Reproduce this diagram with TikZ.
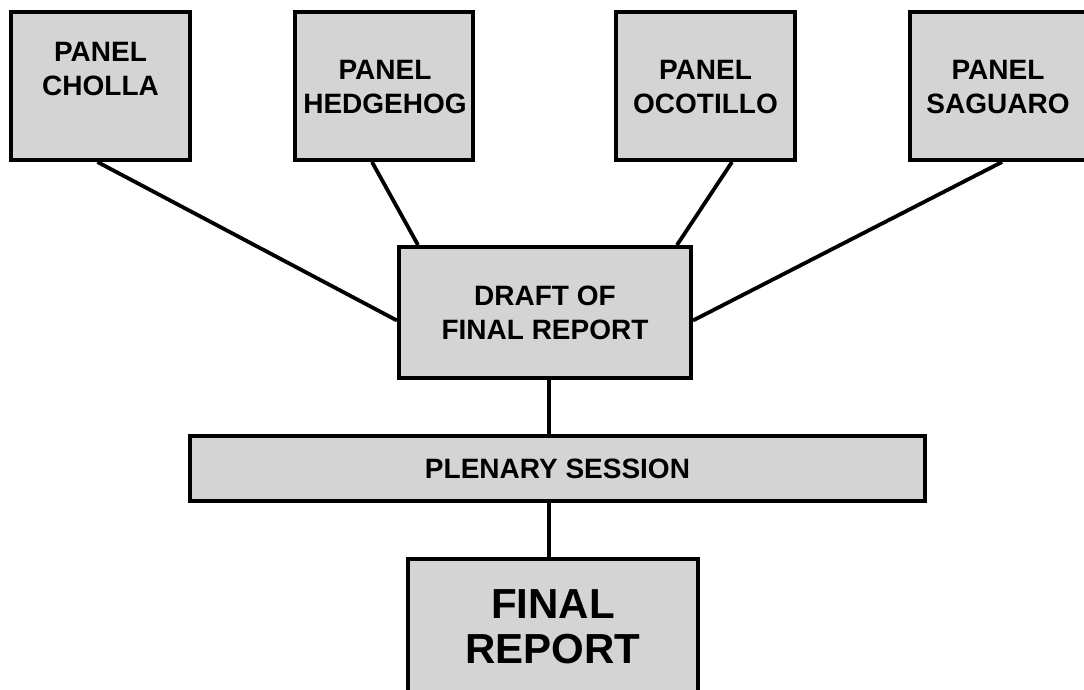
\documentclass[tikz,border=0pt]{standalone}
\usepackage{fontspec}
\setmainfont{Liberation Sans}
\definecolor{boxgray}{HTML}{D4D4D4}
\tikzset{
  box/.style={draw=black, fill=boxgray, line width=4pt, rectangle, inner sep=0pt},
  lbl/.style={font=\bfseries\fontsize{28}{34}\selectfont, align=center, inner sep=0pt},
  biglbl/.style={font=\bfseries\fontsize{42}{45}\selectfont, align=center, inner sep=0pt},
  conn/.style={line width=3.8pt}
}
\begin{document}
\begin{tikzpicture}[x=1pt,y=-1pt]
\useasboundingbox (0,0) rectangle (1084,689);
\clip (0,0) rectangle (1084,689);
\fill[white] (0,0) rectangle (1084,689);
% panels
\node[box, minimum width=179pt, minimum height=148pt] (cholla) at (100.5,86) {};
\node[box, minimum width=178pt, minimum height=148pt] (hedgehog) at (384,86) {};
\node[box, minimum width=179pt, minimum height=148pt] (ocotillo) at (705.5,86) {};
\node[box, minimum width=180pt, minimum height=148pt] (saguaro) at (1000,86) {};
\node[lbl] (cholla-t) at (100.5,69) {PANEL\\CHOLLA};
\node[lbl] (hedgehog-t) at (385,87) {PANEL\\HEDGEHOG};
\node[lbl] (ocotillo-t) at (705.5,87) {PANEL\\OCOTILLO};
\node[lbl] (saguaro-t) at (998,87) {PANEL\\SAGUARO};
% draft
\node[box, lbl, minimum width=292pt, minimum height=131pt] (draft) at (545,312.5) {DRAFT OF\\FINAL REPORT};
% plenary
\node[box, lbl, minimum width=735pt, minimum height=65pt] (plenary) at (557.5,468.5) {PLENARY SESSION};
% final
\node[box, minimum width=290pt, minimum height=146pt] (final) at (553,632) {};
\node[biglbl] (final-t) at (553,627) {FINAL\\REPORT};
% connectors
\draw[conn] ([xshift=-3pt]cholla.south) -- ([yshift=-8pt]draft.west);
\draw[conn] ([xshift=-12pt]hedgehog.south) -- ([xshift=21pt]draft.north west);
\draw[conn] ([xshift=26.5pt]ocotillo.south) -- ([xshift=-16pt]draft.north east);
\draw[conn] ([xshift=2pt]saguaro.south) -- ([yshift=-8pt]draft.east);
\draw[conn] ([xshift=4pt]draft.south) -- ([xshift=4pt]draft.south |- plenary.north);
\draw[conn] ([xshift=-4pt]final.north |- plenary.south) -- ([xshift=-4pt]final.north);
\end{tikzpicture}
\end{document}
